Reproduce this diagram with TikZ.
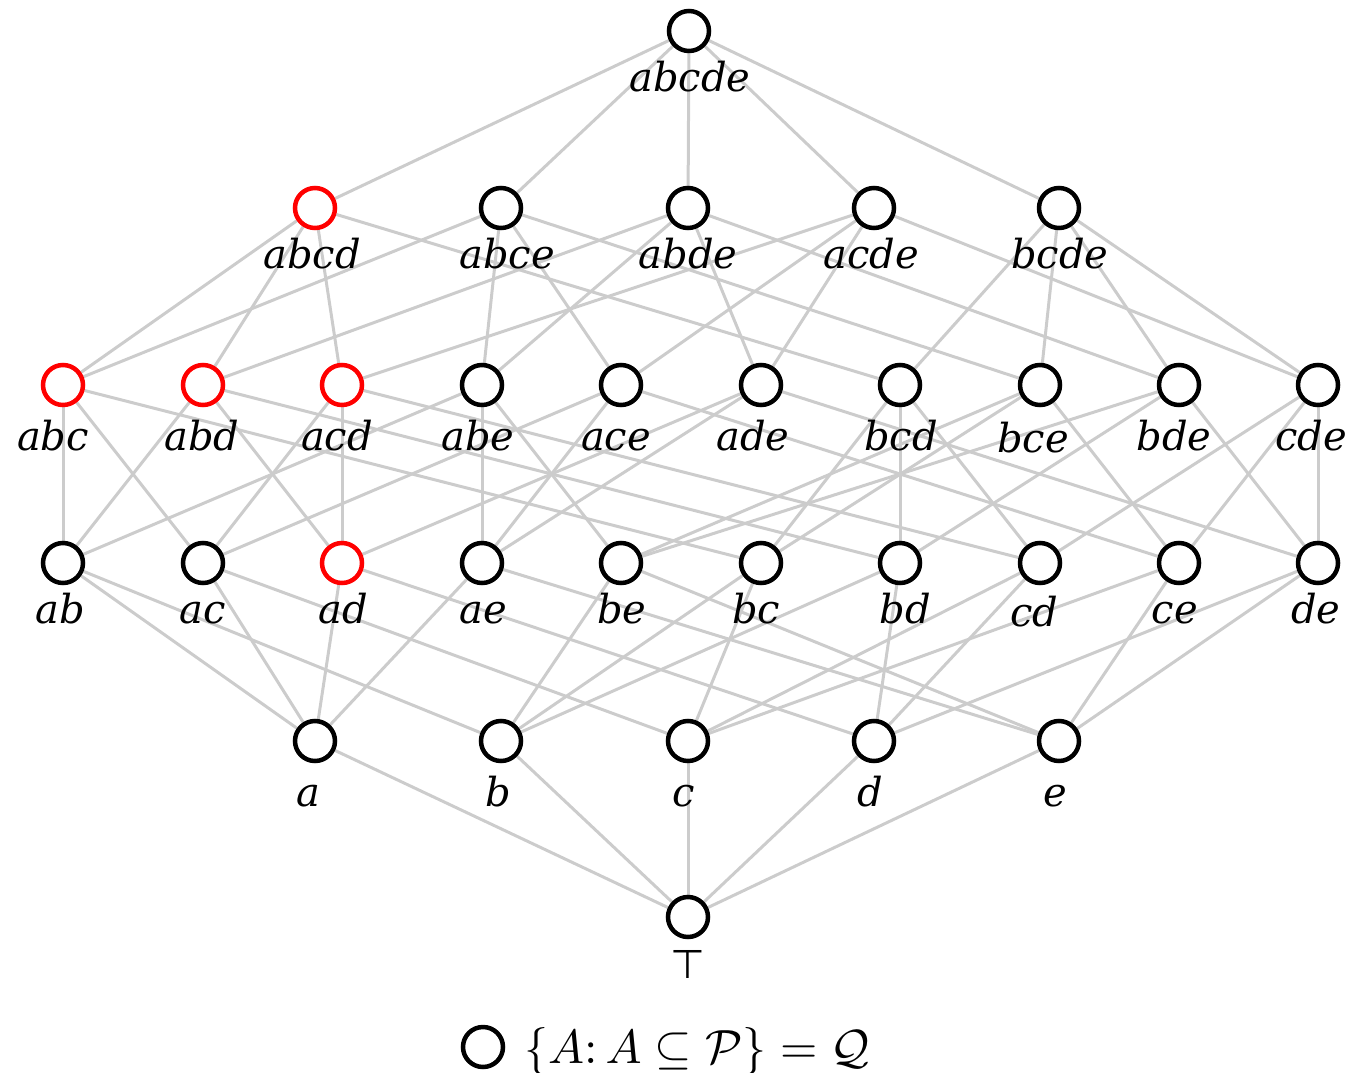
\documentclass[tikz,border=0pt]{standalone}
\usepackage{fontspec}
\usepackage{graphicx}
\usetikzlibrary{backgrounds}
\newfontfamily\lblfont{DejaVu Serif}
\newfontfamily\symfont{DejaVu Sans}
\definecolor{edgegray}{RGB}{204,204,204}
\definecolor{hired}{RGB}{255,0,0}
\tikzset{
  vtx/.style={circle,draw=black,fill=white,line width=4.5pt,minimum size=40pt,inner sep=0pt},
  redvtx/.style={vtx,draw=hired},
  lbl/.style={anchor=base,inner sep=0pt,font=\lblfont\fontsize{40}{48}\selectfont\itshape},
  edge/.style={draw=edgegray,line width=3pt}
}
\begin{document}
\begin{tikzpicture}[x=1pt,y=-1pt]
\useasboundingbox (0,0) rectangle (1368,1073);
% top
\node[vtx] (abcde) at (689,31) {};
% level 4
\node[redvtx] (abcd) at (315,208) {};
\node[vtx] (abce) at (501,208) {};
\node[vtx] (abde) at (688,208) {};
\node[vtx] (acde) at (874,208) {};
\node[vtx] (bcde) at (1059,208) {};
% level 3
\node[redvtx] (abc) at (63,385) {};
\node[redvtx] (abd) at (203,385) {};
\node[redvtx] (acd) at (342,385) {};
\node[vtx] (abe) at (482,385) {};
\node[vtx] (ace) at (621,385) {};
\node[vtx] (ade) at (761,385) {};
\node[vtx] (bcd) at (900,385) {};
\node[vtx] (bce) at (1040,385) {};
\node[vtx] (bde) at (1179,385) {};
\node[vtx] (cde) at (1318,385) {};
% level 2
\node[vtx] (ab) at (63,563) {};
\node[vtx] (ac) at (203,563) {};
\node[redvtx] (ad) at (342,563) {};
\node[vtx] (ae) at (482,563) {};
\node[vtx] (be) at (621,563) {};
\node[vtx] (bc) at (761,563) {};
\node[vtx] (bd) at (900,563) {};
\node[vtx] (cd) at (1040,563) {};
\node[vtx] (ce) at (1179,563) {};
\node[vtx] (de) at (1318,563) {};
% level 1
\node[vtx] (a) at (315,741) {};
\node[vtx] (b) at (501,741) {};
\node[vtx] (c) at (688,741) {};
\node[vtx] (d) at (874,741) {};
\node[vtx] (e) at (1059,741) {};
% bottom
\node[vtx] (top) at (688,917) {};

% labels
\node[lbl] (l-abcde) at (690,92) {abcde};
\node[lbl] (l-abcd) at (312,268) {abcd};
\node[lbl] (l-abce) at (507,268) {abce};
\node[lbl] (l-abde) at (688,268) {abde};
\node[lbl] (l-acde) at (871,268) {acde};
\node[lbl] (l-bcde) at (1060,268) {bcde};
\node[lbl] (l-abc) at (53,450) {abc};
\node[lbl] (l-abd) at (202,450) {abd};
\node[lbl] (l-acd) at (337,450) {acd};
\node[lbl] (l-abe) at (478,450) {abe};
\node[lbl] (l-ace) at (616,450) {ace};
\node[lbl] (l-ade) at (753,450) {ade};
\node[lbl] (l-bcd) at (901,450) {bcd};
\node[lbl] (l-bce) at (1033,452) {bce};
\node[lbl] (l-bde) at (1174,450) {bde};
\node[lbl] (l-cde) at (1311,450) {cde};
\node[lbl] (l-ab) at (60,623) {ab};
\node[lbl] (l-ac) at (203,623) {ac};
\node[lbl] (l-ad) at (343,623) {ad};
\node[lbl] (l-ae) at (483,623) {ae};
\node[lbl] (l-be) at (622,623) {be};
\node[lbl] (l-bc) at (756,623) {bc};
\node[lbl] (l-bd) at (905,623) {bd};
\node[lbl] (l-cd) at (1034,626) {cd};
\node[lbl] (l-ce) at (1175,623) {ce};
\node[lbl] (l-de) at (1316,623) {de};
\node[lbl] (l-a) at (308,806) {a};
\node[lbl] (l-b) at (498,806) {b};
\node[lbl] (l-c) at (684,806) {c};
\node[lbl] (l-d) at (870,806) {d};
\node[lbl] (l-e) at (1055,806) {e};
\node[anchor=base,inner sep=0pt,font=\symfont\fontsize{40}{48}\selectfont] (l-top) at (688,978) {⊤};

% legend
\node[vtx] (legend) at (483,1047) {};
\node[anchor=base west,inner sep=0pt] (legendtxt) at (524,1063)
  {\scalebox{4.8}{$\{A\colon A\subseteq\mathcal{P}\}=\mathcal{Q}$}};

\begin{pgfonlayer}{background}
\foreach \u/\v in {abcde/abcd,abcde/abce,abcde/abde,abcde/acde,abcde/bcde,
  abcd/abc,abcd/abd,abcd/acd,abcd/bcd,
  abce/abc,abce/abe,abce/ace,abce/bce,
  abde/abd,abde/abe,abde/ade,abde/bde,
  acde/acd,acde/ace,acde/ade,acde/cde,
  bcde/bcd,bcde/bce,bcde/bde,bcde/cde,
  abc/ab,abc/ac,abc/bc,
  abd/ab,abd/ad,abd/bd,
  abe/ab,abe/ae,abe/be,
  acd/ac,acd/ad,acd/cd,
  ace/ac,ace/ae,ace/ce,
  ade/ad,ade/ae,ade/de,
  bcd/bc,bcd/bd,bcd/cd,
  bce/bc,bce/be,bce/ce,
  bde/bd,bde/be,bde/de,
  cde/cd,cde/ce,cde/de,
  ab/a,ab/b,ac/a,ac/c,ad/a,ad/d,ae/a,ae/e,
  be/b,be/e,bc/b,bc/c,bd/b,bd/d,cd/c,cd/d,ce/c,ce/e,de/d,de/e,
  a/top,b/top,c/top,d/top,e/top}
  \draw[edge] (\u) -- (\v);
\end{pgfonlayer}
\end{tikzpicture}
\end{document}
